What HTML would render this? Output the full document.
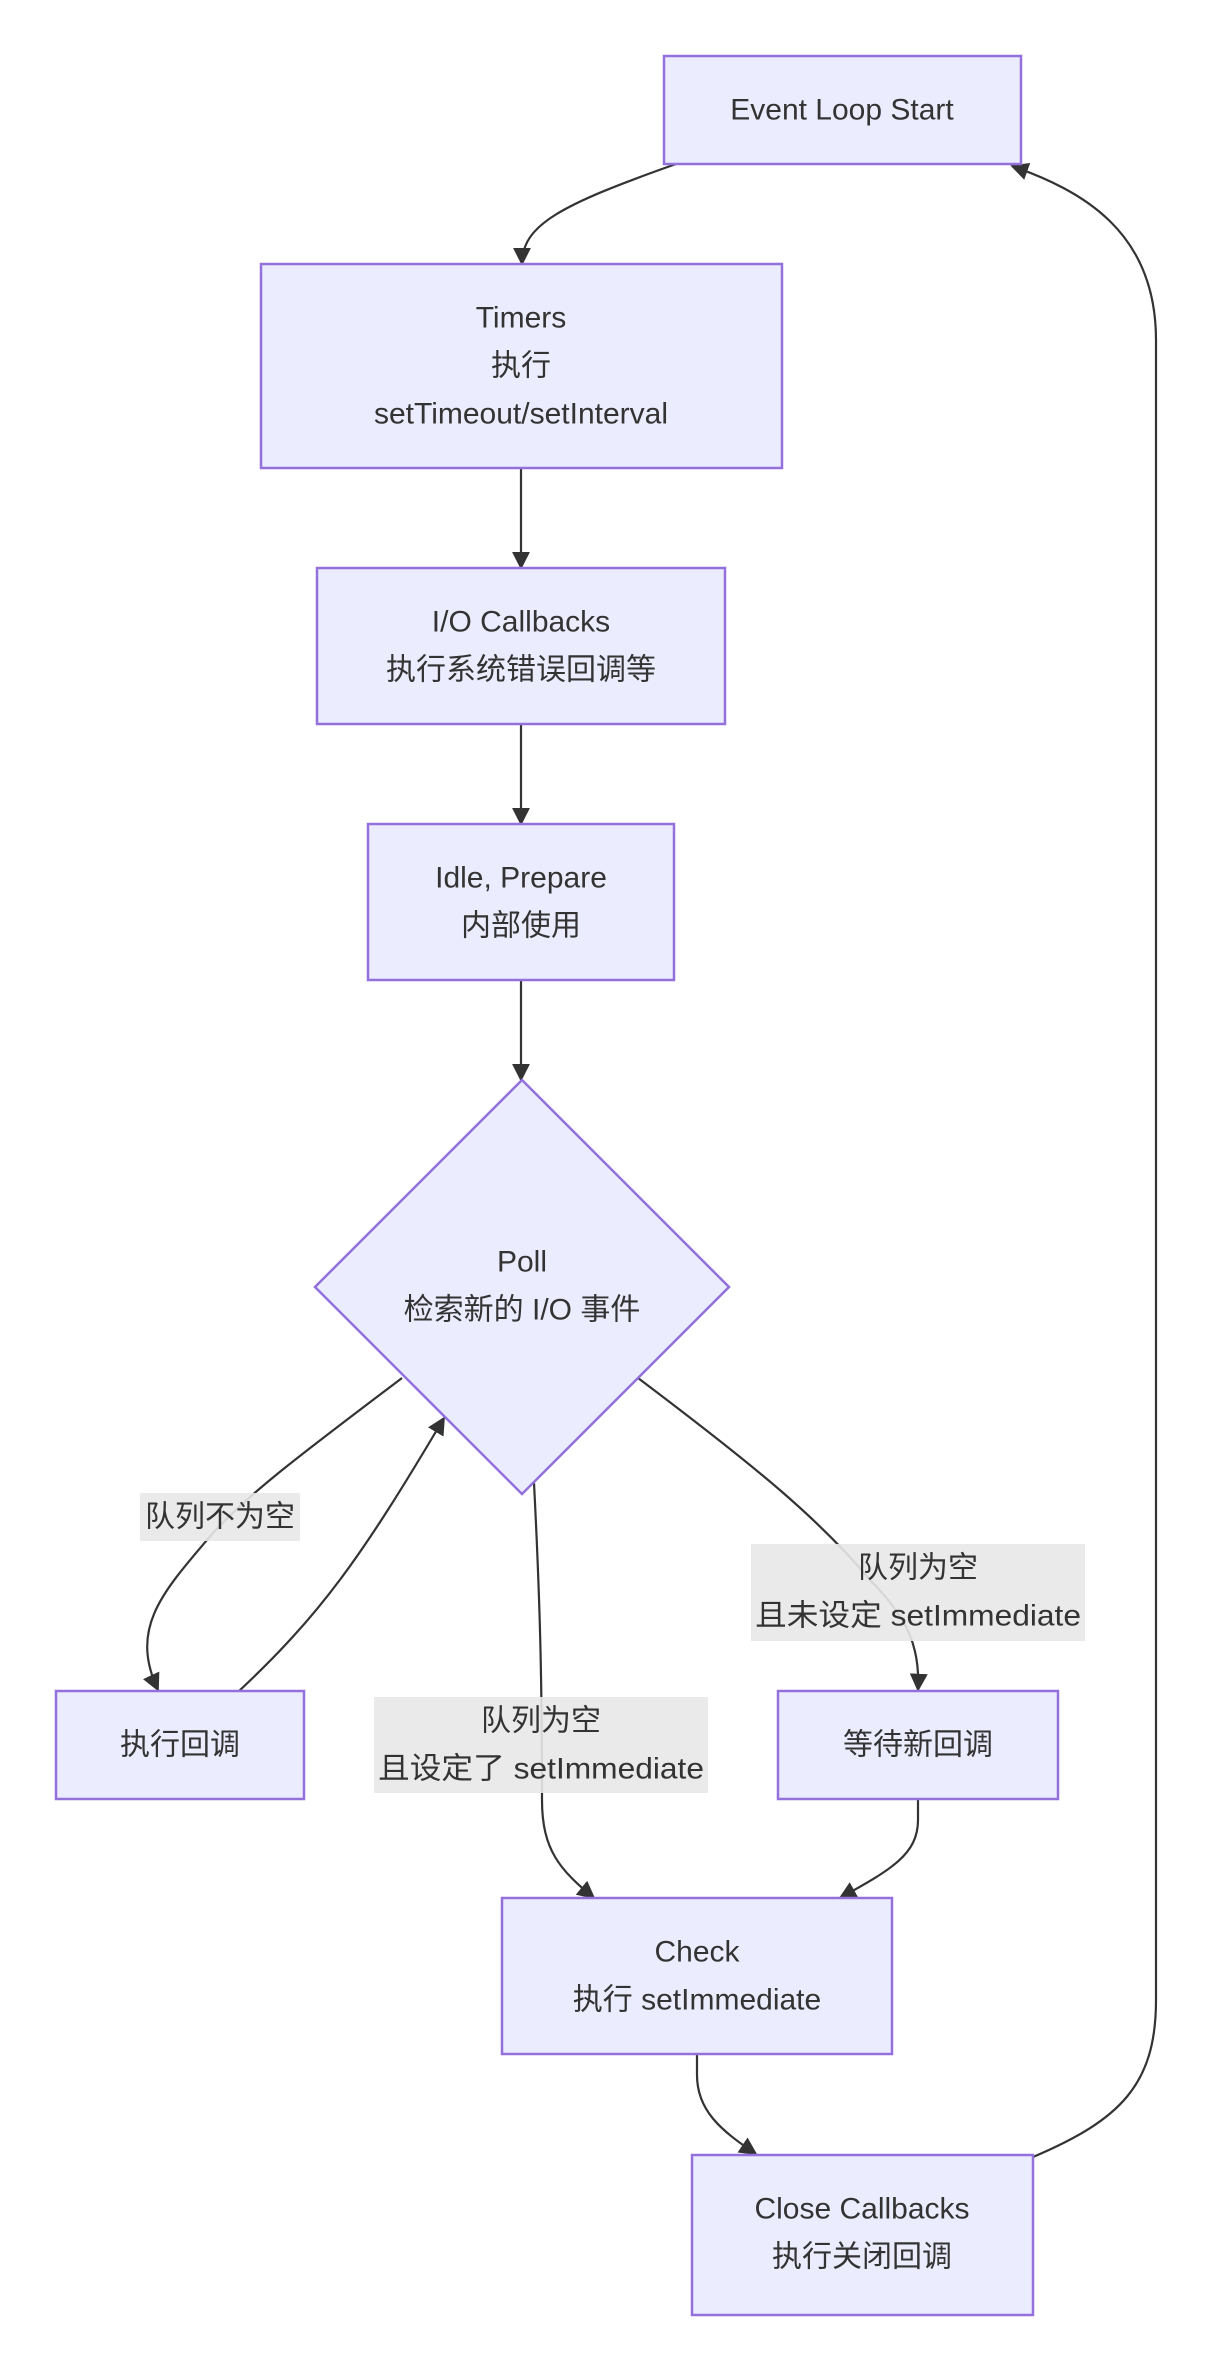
<!DOCTYPE html>
<html><head><meta charset="utf-8"><style>
html,body{margin:0;padding:0;background:#fff;}
svg{display:block}
text{font-family:"Liberation Sans","Noto Sans CJK SC",sans-serif;font-size:30px;fill:#333;text-anchor:middle;dominant-baseline:central}
.n{fill:#ECECFF;stroke:#9370DB;stroke-width:2.5}
.e{fill:none;stroke:#333;stroke-width:2.2}
.l{fill:#e8e8e8;opacity:0.9}
</style></head><body>
<svg width="1211" height="2366" viewBox="0 0 1211 2366" xmlns="http://www.w3.org/2000/svg">
<defs><marker id="a" viewBox="0 0 10 10" refX="9" refY="5" markerWidth="9" markerHeight="9" markerUnits="userSpaceOnUse" orient="auto"><path d="M0,0L10,5L0,10z" fill="#333"/></marker>
<marker id="b" viewBox="0 0 10 10" refX="9" refY="5" markerWidth="18" markerHeight="18" markerUnits="userSpaceOnUse" orient="auto"><path d="M0,0L10,5L0,10z" fill="#333"/></marker></defs>

<!-- edges -->
<path class="e" marker-end="url(#b)" d="M676,164 C560,205 522,225 522,264"/>
<path class="e" marker-end="url(#b)" d="M521,468 L521,568"/>
<path class="e" marker-end="url(#b)" d="M521,724 L521,824"/>
<path class="e" marker-end="url(#b)" d="M521,980 L521,1080"/>
<path class="e" marker-end="url(#b)" d="M402,1378 C300,1455 240,1500 207,1540 C160,1595 130,1630 158,1690"/>
<path class="e" marker-end="url(#b)" d="M238,1692 C320,1615 360,1560 444,1418"/>
<path class="e" marker-end="url(#b)" d="M534,1483 C540,1600 542,1680 542,1800 C542,1850 560,1870 594,1898"/>
<path class="e" marker-end="url(#b)" d="M638,1378 C760,1470 820,1520 870,1580 C910,1620 920,1650 918,1690"/>
<path class="e" marker-end="url(#b)" d="M918,1799 L918,1820 C918,1855 890,1870 840,1898"/>
<path class="e" marker-end="url(#b)" d="M697,2054 L697,2075 C697,2110 720,2130 756,2154"/>
<path class="e" marker-end="url(#b)" d="M1033,2157 C1120,2120 1156,2085 1156,2000 L1156,340 C1156,230 1080,190 1012,166"/>

<!-- nodes -->
<rect class="n" x="664" y="56" width="357" height="108"/>
<text x="842" y="110">Event Loop Start</text>

<rect class="n" x="261" y="264" width="521" height="204"/>
<text x="521" y="318">Timers</text>
<text x="521" y="366">执行</text>
<text x="521" y="414">setTimeout/setInterval</text>

<rect class="n" x="317" y="568" width="408" height="156"/>
<text x="521" y="622">I/O Callbacks</text>
<text x="521" y="670">执行系统错误回调等</text>

<rect class="n" x="368" y="824" width="306" height="156"/>
<text x="521" y="878">Idle, Prepare</text>
<text x="521" y="926">内部使用</text>

<polygon class="n" points="522,1080 729,1287 522,1494 315,1287"/>
<text x="522" y="1262">Poll</text>
<text x="522" y="1310">检索新的 I/O 事件</text>

<rect class="n" x="56" y="1691" width="248" height="108"/>
<text x="180" y="1745">执行回调</text>

<rect class="n" x="778" y="1691" width="280" height="108"/>
<text x="918" y="1745">等待新回调</text>

<rect class="n" x="502" y="1898" width="390" height="156"/>
<text x="697" y="1952">Check</text>
<text x="697" y="2000">执行 setImmediate</text>

<rect class="n" x="692" y="2155" width="341" height="160"/>
<text x="862" y="2209">Close Callbacks</text>
<text x="862" y="2257">执行关闭回调</text>

<!-- labels -->
<rect class="l" x="140" y="1493" width="160" height="48"/>
<text x="220" y="1517">队列不为空</text>

<rect class="l" x="374" y="1697" width="334" height="96"/>
<text x="541" y="1721">队列为空</text>
<text x="541" y="1769" textLength="326" lengthAdjust="spacingAndGlyphs">且设定了 setImmediate</text>

<rect class="l" x="751" y="1544" width="334" height="97"/>
<text x="918" y="1568">队列为空</text>
<text x="918" y="1616" textLength="326" lengthAdjust="spacingAndGlyphs">且未设定 setImmediate</text>
</svg>
</body></html>
